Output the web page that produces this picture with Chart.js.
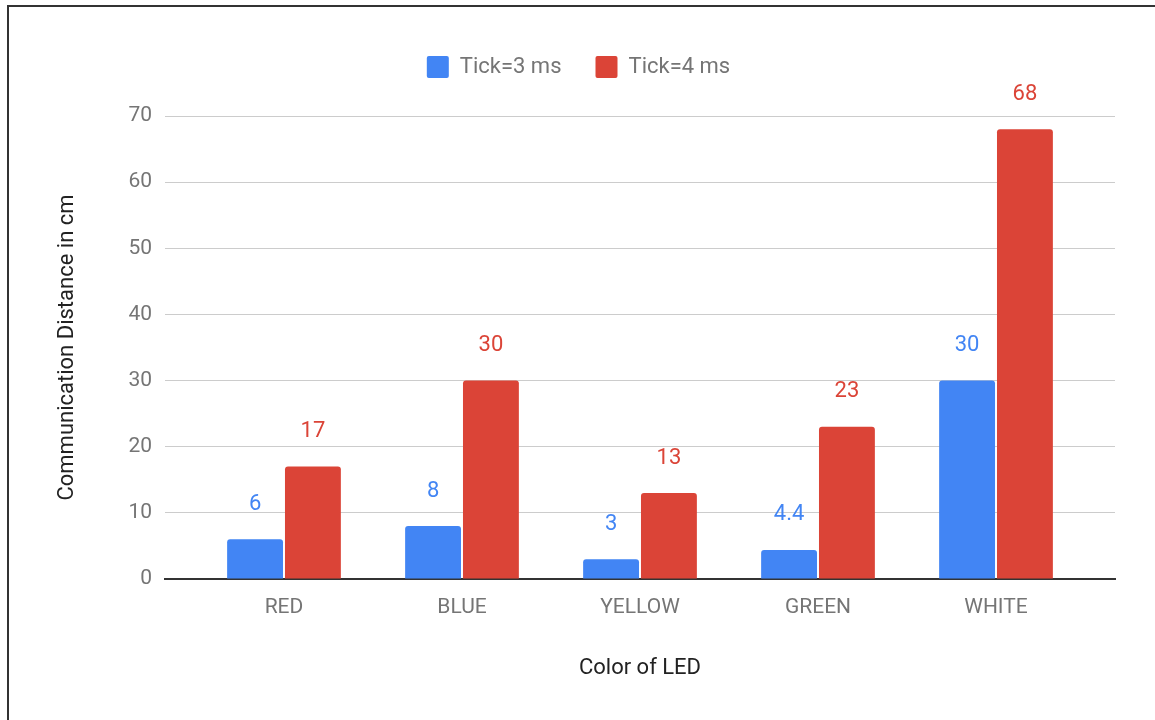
<!DOCTYPE html>
<html>
<head>
<meta charset="utf-8">
<script src="https://cdn.jsdelivr.net/npm/chart.js@4/dist/chart.umd.min.js"></script>
<style>
  html, body { margin: 0; padding: 0; background: #fff; overflow: hidden; }
  #wrap { position: absolute; left: 0; top: 0; width: 1155px; height: 720px; }
  #frame { position: absolute; left: 7px; top: 5px; width: 1200px; height: 800px;
           border-left: 2px solid #333; border-top: 2px solid #333; pointer-events: none; }
</style>
</head>
<body>
<div id="wrap"><canvas id="led-chart" width="1155" height="720"></canvas></div>
<div id="frame"></div>
<script>
/// -------------- DATA --------------- ///
const categories = ["RED", "BLUE", "YELLOW", "GREEN", "WHITE"];
const tick3 = [6, 8, 3, 4.4, 30];
const tick4 = [17, 30, 13, 23, 68];
const seriesLabels = ["Tick=3 ms", "Tick=4 ms"];

const BLUE = "#4285f4";
const RED = "#db4437";

// value labels above each bar
const barLabels = {
    id: "barLabels",
    afterDatasetsDraw(chart) {
        const ctx = chart.ctx;
        ctx.save();
        ctx.font = "22px Roboto";
        ctx.textAlign = "center";
        ctx.textBaseline = "middle";
        chart.data.datasets.forEach((ds, i) => {
            chart.getDatasetMeta(i).data.forEach((bar, j) => {
                ctx.fillStyle = ds.backgroundColor;
                ctx.fillText(String(ds.data[j]), bar.x, bar.y - 35);
            });
        });
        ctx.restore();
    }
};

// extra room between the legend and the plot, legend centred on the page
const legendGap = {
    id: "legendGap",
    beforeLayout(chart) {
        const legend = chart.legend;
        if (!legend || legend._gapDone) return;
        const fit = legend.fit;
        legend.fit = function () {
            fit.call(this);
            this.height += 28;
        };
        legend._gapDone = true;
    },
    afterLayout(chart) {
        const legend = chart.legend;
        if (!legend) return;
        legend.left += 21;
        legend.right += 21;
    }
};

new Chart(document.getElementById("led-chart"), {
    type: "bar",
    data: {
        labels: categories,
        datasets: [{
            label: seriesLabels[0],
            data: tick3,
            backgroundColor: BLUE,
            borderRadius: 3,
            categoryPercentage: 0.65,
            barPercentage: 0.966
        }, {
            label: seriesLabels[1],
            data: tick4,
            backgroundColor: RED,
            borderRadius: 3,
            categoryPercentage: 0.65,
            barPercentage: 0.966
        }]
    },
    plugins: [barLabels, legendGap],
    options: {
        responsive: false,
        animation: false,
        layout: {
            padding: { left: 0, right: 40, top: 22, bottom: 0 }
        },
        plugins: {
            legend: {
                labels: {
                    font: { family: "Roboto", size: 22 },
                    color: "#757575",
                    boxWidth: 22,
                    boxHeight: 22,
                    useBorderRadius: true,
                    borderRadius: 2,
                    padding: 34
                }
            },
            tooltip: { enabled: false }
        },
        scales: {
            x: {
                grid: { display: false },
                border: { display: true, color: "#333", width: 2 },
                ticks: {
                    font: { family: "Roboto", size: 21 },
                    color: "#757575",
                    padding: 8
                },
                title: {
                    display: true,
                    text: "Color of LED",
                    font: { family: "Roboto", size: 22 },
                    color: "#222",
                    padding: { top: 38, bottom: 38 }
                },
                afterFit(scale) { scale.height = 141; },
                // leave ~30px of empty axis on each side of the categories
                afterBuildTicks(scale) {
                    scale._startValue -= 0.1685;
                    scale._valueRange += 0.337;
                }
            },
            y: {
                min: 0,
                max: 70,
                ticks: {
                    stepSize: 10,
                    font: { family: "Roboto", size: 21 },
                    color: "#757575",
                    padding: 13
                },
                grid: { color: "#cccccc", lineWidth: 1, drawTicks: false },
                border: { display: false },
                title: {
                    display: true,
                    text: "Communication Distance in cm",
                    font: { family: "Roboto", size: 22 },
                    color: "#222",
                    padding: { top: 54, bottom: 54 }
                },
                afterFit(scale) { scale.width = 165; }
            }
        }
    }
});
</script>
</body>
</html>
